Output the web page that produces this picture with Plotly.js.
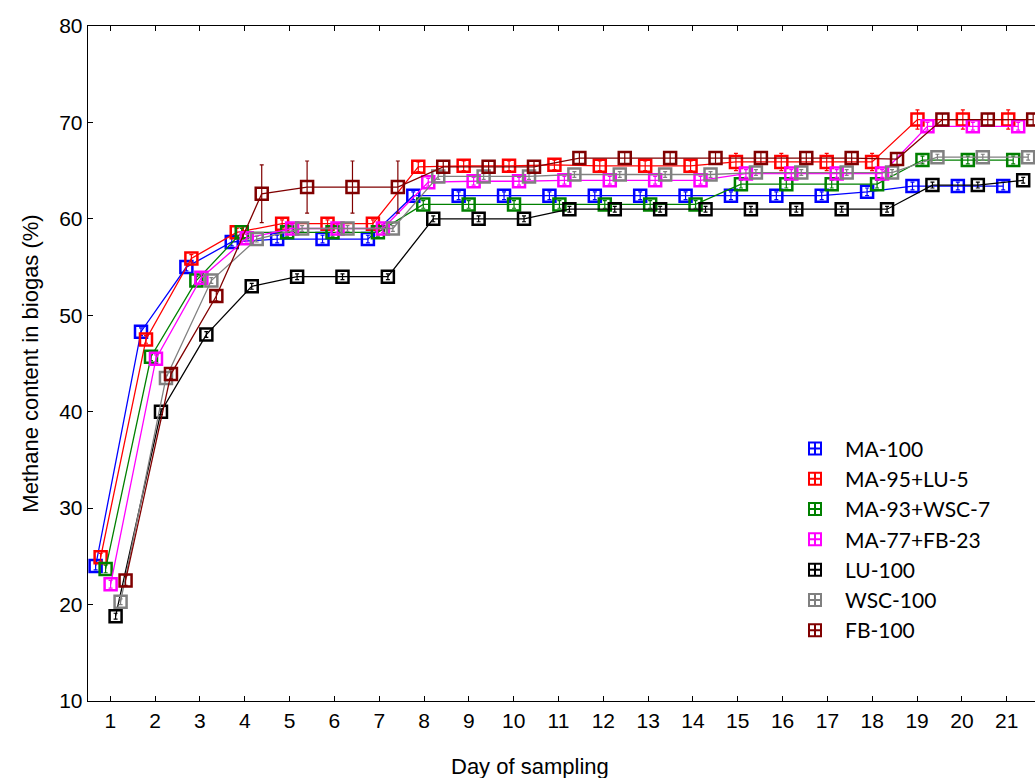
<!DOCTYPE html>
<html>
<head>
<meta charset="utf-8">
<script src="https://cdn.plot.ly/plotly-3.0.1.min.js"></script>
<style>
html, body { margin: 0; padding: 0; overflow: hidden; background: #fff; }
#chart { width: 1100px; height: 778px; }
</style>
</head>
<body>
<div id="chart"></div>
<script>
// Days of sampling
const days = [1,2,3,4,5,6,7,8,9,10,11,12,13,14,15,16,17,18,19,20,21];

// Series names and colours
const seriesNames = ["MA-100", "MA-95+LU-5", "MA-93+WSC-7", "MA-77+FB-23", "LU-100", "WSC-100", "FB-100"];
const seriesColors = ["#0000FF", "#FF0000", "#008000", "#FF00FF", "#000000", "#808080", "#800000"];

// Methane content (%) per series
const ma100   = [24.0, 48.3, 55.0, 57.6, 57.9, 57.9, 57.9, 62.4, 62.4, 62.4, 62.4, 62.4, 62.4, 62.4, 62.4, 62.4, 62.4, 62.8, 63.4, 63.4, 63.4];
const ma95lu5 = [24.9, 47.5, 55.9, 58.6, 59.5, 59.5, 59.5, 65.4, 65.5, 65.5, 65.6, 65.5, 65.5, 65.5, 65.9, 65.9, 65.9, 65.9, 70.3, 70.3, 70.3];
const ma93wsc7= [23.7, 45.7, 53.6, 58.6, 58.6, 58.6, 58.6, 61.5, 61.5, 61.5, 61.5, 61.5, 61.5, 61.5, 63.6, 63.6, 63.6, 63.6, 66.1, 66.1, 66.1];
const ma77fb23= [22.1, 45.5, 53.9, 58.0, 59.0, 59.0, 59.0, 63.8, 63.9, 63.9, 64.0, 64.0, 64.0, 64.0, 64.7, 64.7, 64.7, 64.7, 69.6, 69.6, 69.6];
const lu100   = [18.8, 40.0, 48.0, 53.0, 54.0, 54.0, 54.0, 60.0, 60.0, 60.0, 61.0, 61.0, 61.0, 61.0, 61.0, 61.0, 61.0, 61.0, 63.5, 63.5, 64.0];
const wsc100  = [20.3, 43.5, 53.6, 57.9, 59.0, 59.0, 59.0, 64.4, 64.4, 64.4, 64.6, 64.6, 64.6, 64.6, 64.8, 64.8, 64.8, 64.8, 66.4, 66.4, 66.4];
const fb100   = [22.5, 43.9, 52.0, 62.6, 63.3, 63.3, 63.3, 65.4, 65.4, 65.4, 66.3, 66.3, 66.3, 66.3, 66.3, 66.3, 66.3, 66.2, 70.3, 70.3, 70.3];

// Error (± %) per series
const errMa100   = [0.4,0.4,0.4,0.4,0.4,0.4,0.4,0.4,0.4,0.4,0.4,0.4,0.4,0.4,0.4,0.4,0.4,0.4,0.4,0.4,0.4];
const errMa95lu5 = [0.4,0.4,0.4,0.4,0.4,0.4,0.4,0.5,0.5,0.5,0.5,0.5,0.5,0.5,0.9,0.9,0.9,0.9,1.0,1.0,1.0];
const errMa93wsc7= [0.4,0.4,0.4,0.4,0.4,0.4,0.4,0.4,0.4,0.4,0.4,0.4,0.4,0.4,0.4,0.4,0.4,0.4,0.4,0.4,0.4];
const errMa77fb23= [0.4,0.4,0.4,0.4,0.4,0.4,0.4,0.4,0.4,0.4,0.4,0.4,0.4,0.4,0.4,0.4,0.4,0.4,0.4,0.4,0.4];
const errLu100   = [0.3,0.3,0.3,0.3,0.3,0.3,0.3,0.3,0.3,0.3,0.3,0.3,0.3,0.3,0.3,0.3,0.3,0.3,0.3,0.3,0.3];
const errWsc100  = [0.3,0.3,0.3,0.3,0.3,0.3,0.3,0.3,0.3,0.3,0.3,0.3,0.3,0.3,0.3,0.3,0.3,0.3,0.3,0.3,0.3];
const errFb100   = [0.5,0.5,0.5,3.0,2.7,2.7,2.7,0.6,0.6,0.6,0.6,0.6,0.6,0.6,0.6,0.6,0.6,0.6,0.6,0.6,0.6];

const seriesValues = [ma100, ma95lu5, ma93wsc7, ma77fb23, lu100, wsc100, fb100];
const seriesErrors = [errMa100, errMa95lu5, errMa93wsc7, errMa77fb23, errLu100, errWsc100, errFb100];

const dodge = 0.11; // horizontal spread of the series inside a day group

const traces = [];
seriesNames.forEach((name, k) => {
  traces.push({
    type: 'scatter',
    mode: 'lines+markers',
    name: name,
    x: days.map(d => d + (k - 3) * dodge),
    y: seriesValues[k],
    xaxis: 'x2',
    yaxis: 'y',
    showlegend: false,
    line: { color: seriesColors[k], width: 1.3 },
    marker: { symbol: 'square-open', size: 12, color: seriesColors[k], line: { width: 2.5, color: seriesColors[k] } },
    error_y: { type: 'data', array: seriesErrors[k], visible: true, color: seriesColors[k], thickness: 1.2, width: 2 }
  });
});
// legend entries
seriesNames.forEach((name, k) => {
  traces.push({
    type: 'scatter',
    mode: 'markers',
    name: name,
    x: [null], y: [null],
    showlegend: true,
    marker: { symbol: 'square-cross-open', size: 12, color: seriesColors[k], line: { width: 2, color: seriesColors[k] } }
  });
});

const axisFont = { family: 'Liberation Sans, Arial, sans-serif', size: 21, color: '#000' };

const layout = {
  width: 1100,
  height: 778,
  margin: { l: 88, r: 12, t: 26, b: 76.5 },
  paper_bgcolor: '#fff',
  plot_bgcolor: '#fff',
  showlegend: true,
  xaxis: {
    range: [0.5025, 22.814],
    tickmode: 'array',
    tickvals: days,
    ticktext: days.map(String),
    ticks: 'inside', ticklen: 5, tickwidth: 1, tickcolor: '#000',
    showline: true, linecolor: '#000', linewidth: 1.3, mirror: 'ticks',
    showgrid: false, zeroline: false,
    tickfont: axisFont
  },
  xaxis2: {
    overlaying: 'x', anchor: 'y',
    range: [0.502, 22.538],
    visible: false, showgrid: false, zeroline: false
  },
  yaxis: {
    range: [10, 80],
    tickvals: [10, 20, 30, 40, 50, 60, 70, 80],
    ticks: 'inside', ticklen: 5, tickwidth: 1, tickcolor: '#000',
    showline: true, linecolor: '#000', linewidth: 1.3,
    showgrid: false, zeroline: false,
    tickfont: axisFont,
    title: { text: 'Methane content in biogas (%)', font: { family: 'Liberation Sans, Arial, sans-serif', size: 22, color: '#000' }, standoff: 14 }
  },
  legend: {
    x: 0.697, xanchor: 'left',
    y: 0.404, yanchor: 'top',
    bgcolor: 'rgba(0,0,0,0)',
    font: { family: 'Lato, sans-serif', size: 21, color: '#000' },
    itemwidth: 50,
    tracegroupgap: 0
  },
  annotations: [{
    text: 'Day of sampling',
    xref: 'paper', yref: 'paper',
    x: 0.442, y: -0.097,
    xanchor: 'center', yanchor: 'middle',
    showarrow: false,
    font: { family: 'Liberation Sans, Arial, sans-serif', size: 22, color: '#000' }
  }]
};

Plotly.newPlot('chart', traces, layout, { displayModeBar: false, staticPlot: true });
</script>
</body>
</html>
